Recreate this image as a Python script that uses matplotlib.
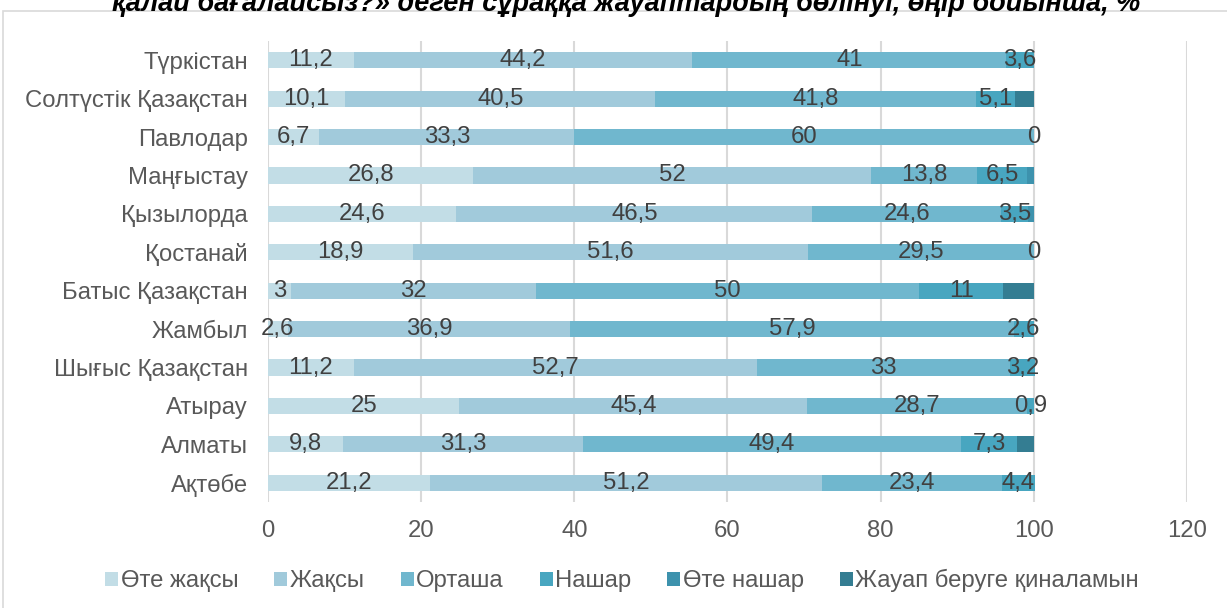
import matplotlib.pyplot as plt
import numpy as np
from matplotlib.patches import Rectangle

plt.rcParams['font.family'] = ['Liberation Sans', 'DejaVu Sans']

# Data
regions = ['Түркістан', 'Солтүстік Қазақстан', 'Павлодар', 'Маңғыстау', 'Қызылорда',
           'Қостанай', 'Батыс Қазақстан', 'Жамбыл', 'Шығыс Қазақстан', 'Атырау',
           'Алматы', 'Ақтөбе']
ote_zhaksy = [11.2, 10.1, 6.7, 26.8, 24.6, 18.9, 3, 2.6, 11.2, 25, 9.8, 21.2]
zhaksy = [44.2, 40.5, 33.3, 52, 46.5, 51.6, 32, 36.9, 52.7, 45.4, 31.3, 51.2]
ortasha = [41, 41.8, 60, 13.8, 24.6, 29.5, 50, 57.9, 33, 28.7, 49.4, 23.4]
nashar = [3.6, 5.1, 0, 6.5, 3.5, 0, 11, 2.6, 3.2, 0.9, 7.3, 4.4]
ote_nashar = [0, 0, 0, 0.9, 0.8, 0, 0, 0, 0, 0, 0, 0]
zhauap_zhok = [0, 2.5, 0, 0, 0, 0, 4, 0, 0, 0, 2.2, 0]

series_names = ['Өте жақсы', 'Жақсы', 'Орташа', 'Нашар', 'Өте нашар',
                'Жауап беруге қиналамын']
series = [ote_zhaksy, zhaksy, ortasha, nashar, ote_nashar, zhauap_zhok]
colors = ['#c2dde6', '#a1cadb', '#70b7ce', '#48a6c0', '#3d92ad', '#347d92']
labelled = [True, True, True, True, False, False]

fs = 17.2

fig = plt.figure(figsize=(12.27, 6.08), dpi=100)
ax = fig.add_axes([0.2184, 0.1743, 0.749, 0.7583])

# chart border
fig.patches.append(Rectangle((3 / 1227, -0.01), 1.02, 0.9919, transform=fig.transFigure,
                             fill=False, edgecolor='#d9d9d9', linewidth=1.2))

y = np.arange(len(regions))
left = np.zeros(len(regions))
for name, vals, col, lab in zip(series_names, series, colors, labelled):
    vals = np.array(vals, dtype=float)
    bars = ax.barh(y, vals, left=left, height=0.42, color=col, label=name, zorder=2)
    if lab:
        txt = [('%g' % v).replace('.', ',') for v in vals]
        ax.bar_label(bars, labels=txt, label_type='center', fontsize=fs,
                     color='#404040', zorder=3)
    left += vals

ax.set_yticks(y)
ax.set_yticklabels(regions, fontsize=fs, color='#595959')
ax.set_ylim(len(regions) - 0.5, -0.5)
ax.set_xlim(0, 120)
ax.set_xticks(np.arange(0, 121, 20))
ax.tick_params(axis='x', labelsize=fs, colors='#595959', length=0, pad=13)
ax.tick_params(axis='y', length=0, pad=14.5)
ax.grid(axis='x', color='#d9d9d9', linewidth=1.5, zorder=0)
ax.set_axisbelow(True)
for s in ax.spines.values():
    s.set_visible(False)

ax.legend(loc='center', bbox_to_anchor=(0.507, 0.045), bbox_transform=fig.transFigure,
          ncol=6, frameon=False, fontsize=fs, labelcolor='#595959',
          handlelength=0.55, handleheight=0.55, handletextpad=0.1, columnspacing=1.5)

fig.text(0.51, 1 - 11 / 608, 'қалай бағалайсыз?» деген сұраққа жауаптардың бөлінуі, өңір бойынша, %',
         ha='center', va='baseline', fontsize=19.5, fontweight='bold', fontstyle='italic')

fig.savefig('out.png', dpi=100)
